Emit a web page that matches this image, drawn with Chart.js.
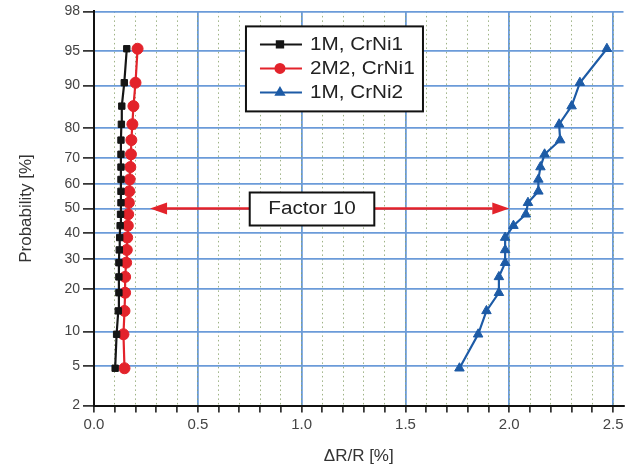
<!DOCTYPE html>
<html>
<head>
<meta charset="utf-8">
<script src="https://cdn.jsdelivr.net/npm/chart.js@4/dist/chart.umd.min.js"></script>
<style>
  html, body { margin: 0; padding: 0; background: #fff; }
</style>
</head>
<body>
<canvas id="chart" width="630" height="471"></canvas>
<script>
// --- data ---
const probs = [4.8, 9.5, 14.3, 19.0, 23.8, 28.6, 33.3, 38.1, 42.9, 47.6, 52.4, 57.1, 61.9, 66.7, 71.4, 76.2, 81.0, 85.7, 90.5, 95.2];
const m1CrNi1 = [0.102, 0.109, 0.117, 0.120, 0.120, 0.120, 0.122, 0.124, 0.126, 0.128, 0.130, 0.130, 0.130, 0.130, 0.130, 0.130, 0.132, 0.134, 0.146, 0.158];
const m2CrNi1 = [0.147, 0.142, 0.147, 0.150, 0.150, 0.155, 0.158, 0.160, 0.163, 0.165, 0.168, 0.170, 0.172, 0.175, 0.178, 0.180, 0.185, 0.190, 0.200, 0.210];
const m1CrNi2 = [1.76, 1.85, 1.89, 1.95, 1.95, 1.98, 1.98, 1.98, 2.02, 2.08, 2.09, 2.14, 2.14, 2.15, 2.17, 2.245, 2.24, 2.30, 2.34, 2.47];
const seriesNames = ['1M, CrNi1', '2M2, CrNi1', '1M, CrNi2'];
const probTicks = [2, 5, 10, 20, 30, 40, 50, 60, 70, 80, 90, 95, 98];
const factorLabel = 'Factor 10';
const arrowFrom = 0.27, arrowTo = 2.0, arrowLevel = 50;
const boxFrom = 0.75, boxTo = 1.35;

const FONT = "'Liberation Sans', Arial, sans-serif";
const GRID_BLUE = '#6b9bd9';
const colors = ['#151515', '#e3232b', '#1d5ba6'];
const styles = ['rect', 'circle', 'triangle'];

// inverse normal cdf (Acklam)
function probit(pct) {
    const p = pct / 100;
    const a = [-3.969683028665376e+01, 2.209460984245205e+02, -2.759285104469687e+02, 1.383577518672690e+02, -3.066479806614716e+01, 2.506628277459239e+00];
    const b = [-5.447609879822406e+01, 1.615858368580409e+02, -1.556989798598866e+02, 6.680131188771972e+01, -1.328068155288572e+01];
    const c = [-7.784894002430293e-03, -3.223964580411365e-01, -2.400758277161838e+00, -2.549732539343734e+00, 4.374664141464968e+00, 2.938163982698783e+00];
    const d = [7.784695709041462e-03, 3.224671290700398e-01, 2.445134137142996e+00, 3.754408661907416e+00];
    const pl = 0.02425;
    let q, r;
    if (p < pl) {
        q = Math.sqrt(-2 * Math.log(p));
        return (((((c[0]*q+c[1])*q+c[2])*q+c[3])*q+c[4])*q+c[5]) / ((((d[0]*q+d[1])*q+d[2])*q+d[3])*q+1);
    }
    if (p > 1 - pl) {
        q = Math.sqrt(-2 * Math.log(1 - p));
        return -(((((c[0]*q+c[1])*q+c[2])*q+c[3])*q+c[4])*q+c[5]) / ((((d[0]*q+d[1])*q+d[2])*q+d[3])*q+1);
    }
    q = p - 0.5; r = q * q;
    return (((((a[0]*r+a[1])*r+a[2])*r+a[3])*r+a[4])*r+a[5])*q / (((((b[0]*r+b[1])*r+b[2])*r+b[3])*r+b[4])*r+1);
}
function normCdf(z) {
    const t = 1 / (1 + 0.2316419 * Math.abs(z));
    const poly = t * (0.319381530 + t * (-0.356563782 + t * (1.781477937 + t * (-1.821255978 + t * 1.330274429))));
    const v = 1 - Math.exp(-z * z / 2) / Math.sqrt(2 * Math.PI) * poly;
    return z >= 0 ? v : 1 - v;
}

// normal probability axis
class ProbitScale extends Chart.Scale {
    static id = 'probit';
    static defaults = {};
    determineDataLimits() {
        this.min = this.options.min;
        this.max = this.options.max;
    }
    buildTicks() {
        return probTicks.map(v => ({ value: v }));
    }
    getLabelForValue(v) { return String(v); }
    configure() {
        super.configure();
        this._zStart = probit(this.min);
        this._zRange = probit(this.max) - this._zStart;
    }
    getPixelForValue(v) {
        return this.getPixelForDecimal((probit(v) - this._zStart) / this._zRange);
    }
    getValueForPixel(px) {
        return 100 * normCdf(this._zStart + this.getDecimalForPixel(px) * this._zRange);
    }
}
Chart.register(ProbitScale);

const isHalf = v => Math.abs(v * 2 - Math.round(v * 2)) < 1e-6;
// minor x ticks every 0.1 up to 2.5
const tenthTicks = s => { s.ticks = Array.from({ length: 26 }, (_, i) => ({ value: i / 10 })); };

// the source picture is a bit stretched sideways: widen the free text a little
function wideText(ctx, text, x, y, align) {
    ctx.save();
    ctx.translate(x, y);
    ctx.scale(1.15, 1);
    ctx.textAlign = align;
    ctx.textBaseline = 'middle';
    ctx.fillText(text, 0, 0);
    ctx.restore();
}

const factorPlugin = {
    id: 'factor',
    afterDatasetsDraw(chart) {
        const { ctx, scales: { x, y } } = chart;
        const yy = y.getPixelForValue(arrowLevel);
        const x1 = x.getPixelForValue(arrowFrom);
        const x2 = x.getPixelForValue(arrowTo);
        const head = 17, half = 6;
        ctx.save();
        ctx.strokeStyle = '#e3232b';
        ctx.fillStyle = '#e3232b';
        ctx.lineWidth = 2.5;
        ctx.beginPath();
        ctx.moveTo(x1 + head, yy); ctx.lineTo(x2 - head, yy);
        ctx.stroke();
        ctx.beginPath();
        ctx.moveTo(x1, yy); ctx.lineTo(x1 + head, yy - half); ctx.lineTo(x1 + head, yy + half); ctx.closePath();
        ctx.fill();
        ctx.beginPath();
        ctx.moveTo(x2, yy); ctx.lineTo(x2 - head, yy - half); ctx.lineTo(x2 - head, yy + half); ctx.closePath();
        ctx.fill();
        const bx1 = x.getPixelForValue(boxFrom), bx2 = x.getPixelForValue(boxTo);
        ctx.fillStyle = '#fff';
        ctx.strokeStyle = '#111';
        ctx.lineWidth = 2;
        ctx.fillRect(bx1, yy - 16, bx2 - bx1, 33);
        ctx.strokeRect(bx1, yy - 16, bx2 - bx1, 33);
        ctx.fillStyle = '#222';
        ctx.font = '18px ' + FONT;
        wideText(ctx, factorLabel, (bx1 + bx2) / 2, yy + 1, 'center');
        ctx.restore();
    }
};

const legendPlugin = {
    id: 'boxLegend',
    afterDraw(chart) {
        const { ctx, chartArea: ca } = chart;
        const left = ca.left + 152, top = ca.top + 15, w = 177, h = 85;
        ctx.save();
        ctx.fillStyle = '#fff';
        ctx.strokeStyle = '#111';
        ctx.lineWidth = 2;
        ctx.fillRect(left, top, w, h);
        ctx.strokeRect(left, top, w, h);
        seriesNames.forEach((name, i) => {
            const yy = top + 18 + i * 24;
            ctx.strokeStyle = colors[i];
            ctx.fillStyle = colors[i];
            ctx.lineWidth = 2;
            ctx.beginPath();
            ctx.moveTo(left + 14, yy); ctx.lineTo(left + 56, yy);
            ctx.stroke();
            Chart.helpers.drawPoint(ctx, { pointStyle: styles[i], radius: 4.5, borderWidth: 1 }, left + 34, yy);
            ctx.fillStyle = '#222';
            ctx.font = '18px ' + FONT;
            wideText(ctx, name, left + 64, yy + 1, 'left');
        });
        ctx.restore();
    }
};

const mk = arr => probs.map((p, i) => ({ x: arr[i], y: p }));
const seriesData = [m1CrNi1, m2CrNi1, m1CrNi2];

new Chart(document.getElementById('chart'), {
    type: 'scatter',
    data: {
        datasets: seriesData.map((arr, i) => ({
            label: seriesNames[i],
            data: mk(arr),
            showLine: true,
            borderColor: colors[i],
            backgroundColor: colors[i],
            borderWidth: 2.2,
            pointStyle: styles[i],
            pointRadius: i === 0 ? 4.5 : 5.5,
            pointBorderWidth: 1,
            tension: 0
        }))
    },
    options: {
        responsive: false,
        animation: false,
        devicePixelRatio: 1,
        layout: { padding: { left: 12, top: 4, right: 0, bottom: 0 } },
        plugins: { legend: { display: false }, tooltip: { enabled: false } },
        scales: {
            x: {
                type: 'linear', position: 'bottom', min: 0, max: 2.55,
                afterBuildTicks: tenthTicks,
                ticks: {
                    autoSkip: false, maxRotation: 0, padding: 3,
                    color: '#444', font: { family: FONT, size: 15 },
                    callback: v => isHalf(v) ? v.toFixed(1) : ''
                },
                grid: {
                    color: c => isHalf(c.tick.value) && c.tick.value > 0 ? GRID_BLUE : 'rgba(0,0,0,0)',
                    lineWidth: 1.8, tickColor: '#111', tickLength: 7, tickWidth: 1.5
                },
                border: { color: '#111', width: 2 },
                title: { display: true, text: 'ΔR/R [%]', color: '#333', font: { family: FONT, size: 17 }, padding: { top: 10 } }
            },
            xm: {
                type: 'linear', position: 'bottom', min: 0, max: 2.55,
                afterBuildTicks: tenthTicks,
                afterFit: s => { s.height = 0; },
                ticks: { display: false },
                grid: { color: 'rgba(140,165,110,0.85)', lineWidth: 1, drawTicks: false, z: -1 },
                border: { display: false, dash: [1.5, 3] }
            },
            y: {
                type: 'probit', position: 'left', min: 2, max: 98,
                ticks: { color: '#444', font: { family: FONT, size: 14 }, padding: 3 },
                grid: { color: GRID_BLUE, lineWidth: 1.8, tickColor: '#111', tickLength: 11, tickWidth: 1.5 },
                border: { color: '#111', width: 2 },
                title: { display: true, text: 'Probability [%]', color: '#333', font: { family: FONT, size: 17 }, padding: { bottom: 25 } }
            }
        }
    },
    plugins: [factorPlugin, legendPlugin]
});
</script>
</body>
</html>
